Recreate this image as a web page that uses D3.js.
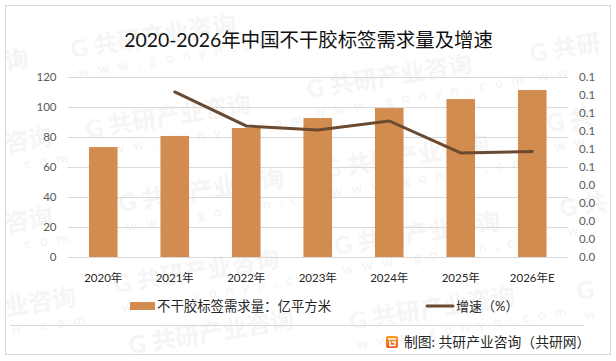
<!DOCTYPE html>
<html>
<head>
<meta charset="utf-8">
<script src="https://cdn.jsdelivr.net/npm/d3@7/dist/d3.min.js"></script>
<style>
  html, body { margin: 0; padding: 0; background: #fff; }
  text { font-family: Lato, "Noto Sans CJK SC", sans-serif; }
</style>
</head>
<body>
<div id="chart"></div>
<script>
const categories = ["2020年", "2021年", "2022年", "2023年", "2024年", "2025年", "2026年E"];
const demand = [73.3, 80.7, 86, 92.7, 99.3, 105.3, 111.3];
const growth = [null, 0.0917, 0.0728, 0.0706, 0.0756, 0.0578, 0.0586];
const leftTicks = [0, 20, 40, 60, 80, 100, 120];
const rightTicks = [0, 0.01, 0.02, 0.03, 0.04, 0.05, 0.06, 0.07, 0.08, 0.09, 0.1];
const titleText = "2020-2026年中国不干胶标签需求量及增速";
const barLabel = "不干胶标签需求量：亿平方米";
const lineLabel = "增速（%）";
const sourceText = "制图: 共研产业咨询（共研网）";
// watermark stamps: x, y, main text, small text
const stamps = [
  [72, 58, "G 共研产业咨询", "www.gonyn.com"],
  [87, 138, "G 共研产业咨询", "www.gonyn.com"],
  [308, 98, "G 共研产业咨询", "www.gonyn.com"],
  [120, 212, "G 共研产业咨询", "www.gonyn.com"],
  [325, 178, "G 共研产业咨询", "www.gonyn.com"],
  [115, 293, "G 共研产业咨询", "www.gonyn.com"],
  [336, 255, "G 共研产业咨询", "www.gonyn.com"],
  [351, 330, "G 共研产业咨询", "www.gonyn.com"],
  [130, 354, "G 共研产业咨询", ""],
  [531, 62, "G 共研", "ww"],
  [548, 132, "G 共", "ww"],
  [561, 217, "G 共", "w"],
  [578, 300, "G", "w"],
  [6, 70, "询", ""],
  [6, 152, "咨询", ".com"],
  [6, 232, "咨询", ".com"],
  [6, 316, "业咨询", "n.com"]
];

const width = 616, height = 361;
const margin = { top: 77, right: 48, bottom: 104, left: 67.5 };
const innerW = width - margin.left - margin.right;
const innerH = height - margin.top - margin.bottom;

const svg = d3.select("#chart").append("svg")
  .attr("width", width)
  .attr("height", height)
  .style("display", "block");

const defs = svg.append("defs");
const logoFill = defs.append("linearGradient").attr("id", "logoFill")
  .attr("x1", 0).attr("y1", 0).attr("x2", 0).attr("y2", 1);
logoFill.append("stop").attr("offset", "0%").attr("stop-color", "#f7a11e");
logoFill.append("stop").attr("offset", "100%").attr("stop-color", "#ea5a24");

// watermark layer
const wm = svg.append("g").attr("class", "watermark");
stamps.forEach(s => {
  const g = wm.append("g").attr("transform", "translate(" + s[0] + "," + s[1] + ") rotate(-9)");
  g.append("text").attr("font-size", 24).attr("font-weight", 700).attr("fill", "#f5f5f5").text(s[2]);
  if (s[3]) {
    g.append("text").attr("x", 4).attr("y", 20).attr("font-size", 14)
      .attr("letter-spacing", 9).attr("fill", "#f3f3f3").text(s[3]);
  }
});

// outer frame
svg.append("rect")
  .attr("x", 5.5).attr("y", 5.5)
  .attr("width", 605).attr("height", 349)
  .attr("fill", "none")
  .attr("stroke", "#d9d9d9")
  .attr("stroke-width", 1);

svg.append("text")
  .attr("x", 308.5).attr("y", 47)
  .attr("text-anchor", "middle")
  .attr("font-size", 19.4)
  .attr("fill", "#111")
  .text(titleText);

const plot = svg.append("g").attr("transform", "translate(" + margin.left + "," + margin.top + ")");

const x = d3.scaleBand().domain(categories).range([0, innerW]).paddingInner(0.6).paddingOuter(0.3);
const yLeft = d3.scaleLinear().domain([0, 120]).range([innerH, 0]);
const yRight = d3.scaleLinear().domain([0, 0.1]).range([innerH, 0]);

// gridlines
plot.append("g").selectAll("line")
  .data(leftTicks)
  .enter().append("line")
  .attr("x1", 0).attr("x2", innerW)
  .attr("y1", d => yLeft(d) + 0.5).attr("y2", d => yLeft(d) + 0.5)
  .attr("stroke", "#d9d9d9");

plot.selectAll(".bar")
  .data(demand)
  .enter().append("rect")
  .attr("class", "bar")
  .attr("x", (d, i) => x(categories[i]))
  .attr("y", d => yLeft(d))
  .attr("width", x.bandwidth())
  .attr("height", d => innerH - yLeft(d))
  .attr("fill", "#d38c4f");

const line = d3.line()
  .defined(d => d !== null)
  .x((d, i) => x(categories[i]) + x.bandwidth() / 2)
  .y(d => yRight(d));

plot.append("path")
  .datum(growth)
  .attr("d", line)
  .attr("fill", "none")
  .attr("stroke", "#6b4a30")
  .attr("stroke-width", 3)
  .attr("stroke-linecap", "round");

// axes
const leftAxis = d3.axisLeft(yLeft).tickValues(leftTicks).tickSize(0).tickPadding(11);
const rightAxis = d3.axisRight(yRight).tickValues(rightTicks).tickSize(0).tickPadding(11).tickFormat(d3.format(".1f"));
const bottomAxis = d3.axisBottom(x).tickSize(0).tickPadding(17);

const gLeft = plot.append("g").call(leftAxis);
const gRight = plot.append("g").attr("transform", "translate(" + innerW + ",0)").call(rightAxis);
const gBottom = plot.append("g").attr("transform", "translate(0," + innerH + ")").call(bottomAxis);

[gLeft, gRight, gBottom].forEach(g => {
  g.select(".domain").remove();
  g.selectAll("text").attr("font-size", 11.5).style("font-family", 'Lato, "Noto Sans CJK SC", sans-serif');
});
gLeft.selectAll("text").attr("fill", "#595959");
gRight.selectAll("text").attr("fill", "#595959");
gBottom.selectAll("text").attr("fill", "#262626");

// legend
svg.append("rect").attr("x", 130).attr("y", 302).attr("width", 25).attr("height", 8).attr("fill", "#d38c4f");
svg.append("text").attr("x", 157).attr("y", 311).attr("font-size", 13.4).attr("fill", "#262626").text(barLabel);
svg.append("line").attr("x1", 427).attr("x2", 453).attr("y1", 306).attr("y2", 306)
  .attr("stroke", "#6b4a30").attr("stroke-width", 3).attr("stroke-linecap", "round");
svg.append("text").attr("x", 456).attr("y", 311).attr("font-size", 13).attr("fill", "#262626").text(lineLabel);

// footer
svg.append("line").attr("x1", 10).attr("x2", 584).attr("y1", 325.5).attr("y2", 325.5).attr("stroke", "#d9d9d9");
const logo = svg.append("g").attr("transform", "translate(386,336)");
logo.append("rect").attr("width", 12).attr("height", 12).attr("rx", 2).attr("fill", "url(#logoFill)");
logo.append("path").attr("d", "M2,3 H10 M10,6 H6 M9,6 V9.5 H4 V5").attr("fill", "none").attr("stroke", "#fff").attr("stroke-width", 1.5);
svg.append("text").attr("x", 404).attr("y", 347).attr("font-size", 13.8).attr("fill", "#262626").text(sourceText);
</script>
</body>
</html>
